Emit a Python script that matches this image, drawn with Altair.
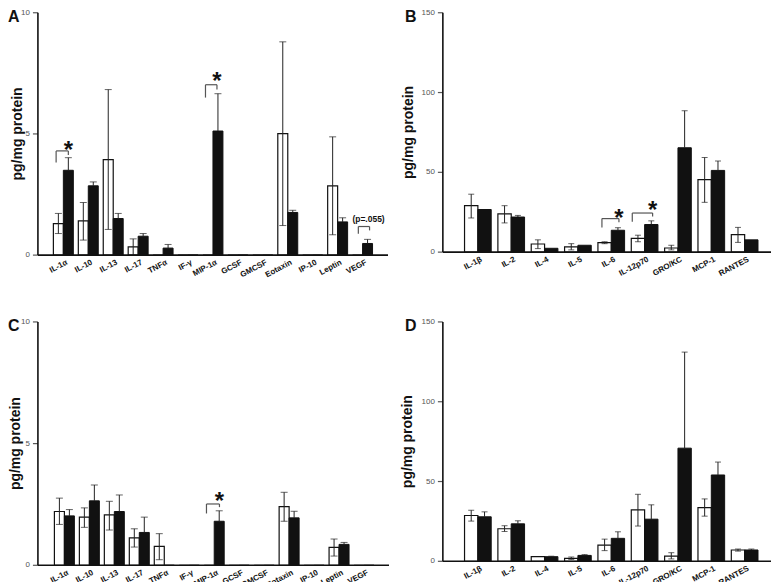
import altair as alt
import pandas as pd

FONT = "Liberation Sans"
INK = "#111111"

# ---------------- categories ----------------
cats_ac = ["IL-1α", "IL-10", "IL-13", "IL-17", "TNFα", "IF-γ", "MIP-1α",
           "GCSF", "GMCSF", "Eotaxin", "IP-10", "Leptin", "VEGF"]
cats_bd = ["IL-1β", "IL-2", "IL-4", "IL-5", "IL-6", "IL-12p70",
           "GRO/KC", "MCP-1", "RANTES"]

# ---------------- panel A ----------------
a_white    = [1.30, 1.41, 3.94, 0.34, 0, 0, 0, 0, 0, 5.01, 0, 2.86, 0]
a_white_lo = [0.89, 0.62, 1.06, 0.00, 0, 0, 0, 0, 0, 1.22, 0, 0.84, 0]
a_white_hi = [1.72, 2.17, 6.83, 0.67, 0, 0, 0, 0, 0, 8.80, 0, 4.88, 0]
a_black    = [3.50, 2.86, 1.51, 0.78, 0.29, 0, 5.12, 0, 0, 1.76, 0, 1.37, 0.48]
a_black_hi = [4.02, 3.02, 1.72, 0.89, 0.44, 0, 6.66, 0, 0, 1.85, 0, 1.54, 0.65]
# (category, left offset, right offset, top, left foot, right foot)
a_brackets = [(0, -0.29, 0.2, 4.30, 3.82, 4.13),
              (6, -0.30, 0.16, 7.03, 6.50, 6.83),
              (12, -0.17, 0.28, 1.18, 0.88, 1.02)]
a_stars = [(0, 0.2, 4.6), (6, 0.16, 7.45)]
a_notes = [(12, 0.24, 1.48, "(p=.055)")]
a_ticks = [0, 5, 10]

# ---------------- panel B ----------------
b_white    = [29.1, 24.0, 5.1, 3.3, 5.9, 8.6, 2.6, 45.4, 11.0]
b_white_lo = [21.4, 18.3, 2.2, 1.4, 5.3, 6.5, 1.4, 31.2, 6.1]
b_white_hi = [36.3, 29.1, 7.7, 5.3, 6.5, 10.6, 4.3, 59.3, 15.5]
b_black    = [26.7, 22.0, 2.4, 4.3, 13.7, 17.3, 65.4, 51.2, 7.7]
b_black_hi = [26.7, 23.0, 2.4, 4.3, 15.3, 19.6, 88.6, 57.1, 7.7]
b_brackets = [(4, -0.28, 0.23, 21.0, 15.5, 18.7),
              (5, -0.37, 0.24, 24.5, 19.0, 22.4)]
b_stars = [(4, 0.23, 25.3), (5, 0.24, 30.2)]
b_notes = []
b_ticks = [0, 50, 100, 150]

# ---------------- panel C ----------------
c_white    = [2.21, 1.98, 2.07, 1.13, 0.78, 0, 0, 0, 0, 2.41, 0, 0.74, 0]
c_white_lo = [1.68, 1.56, 1.45, 0.75, 0.23, 0, 0, 0, 0, 1.81, 0, 0.38, 0]
c_white_hi = [2.76, 2.36, 2.63, 1.50, 1.30, 0, 0, 0, 0, 3.00, 0, 1.08, 0]
c_black    = [2.03, 2.65, 2.21, 1.35, 0, 0, 1.81, 0, 0, 1.95, 0, 0.86, 0]
c_black_hi = [2.29, 3.30, 2.89, 1.98, 0, 0, 2.24, 0, 0, 2.22, 0, 0.94, 0]
c_brackets = [(6, -0.31, 0.21, 2.52, 2.13, 2.39)]
c_stars = [(6, 0.21, 2.88)]
c_notes = []
c_ticks = [0, 5, 10]

# ---------------- panel D ----------------
d_white    = [28.7, 20.4, 2.9, 1.9, 10.2, 32.2, 3.3, 33.7, 7.1]
d_white_lo = [25.2, 18.7, 2.9, 1.2, 6.7, 22.1, 1.5, 28.3, 6.4]
d_white_hi = [32.0, 22.3, 2.9, 2.7, 13.9, 42.0, 5.4, 39.1, 7.7]
d_black    = [27.9, 23.5, 2.9, 3.7, 14.4, 26.4, 70.9, 54.1, 7.1]
d_black_hi = [31.0, 25.4, 3.2, 4.2, 18.5, 35.4, 131.1, 62.2, 7.7]
d_brackets = []
d_stars = []
d_notes = []
d_ticks = [0, 50, 100, 150]

BAR_W = 0.4
Y_TITLE = "pg/mg protein"


def panel(letter, letter_x, cats, white, wlo, whi, black, bhi, ticks,
          width, height, xdom, title_x, cap, brackets, stars, notes):
    n = len(cats)
    idx = list(range(n))
    ymax = ticks[-1]
    xscale = alt.Scale(domain=xdom, nice=False, zero=False)
    yscale = alt.Scale(domain=[0, ymax], nice=False, zero=True)

    def X(field):
        return alt.X(field, scale=xscale, axis=None)

    def Y(field):
        return alt.Y(field, scale=yscale, axis=None)

    white_df = pd.DataFrame({"x0": [i - BAR_W for i in idx], "x1": idx, "v": white})
    black_df = pd.DataFrame({"x0": idx, "x1": [i + BAR_W for i in idx], "v": black})

    layers = []
    layers.append(alt.Chart(white_df).mark_bar(fill="white", stroke=INK, strokeWidth=1.2).encode(
        x=X("x0:Q"), x2="x1:Q", y=Y("v:Q"), y2=alt.datum(0)))
    layers.append(alt.Chart(black_df).mark_bar(fill=INK, stroke=INK, strokeWidth=1).encode(
        x=X("x0:Q"), x2="x1:Q", y=Y("v:Q"), y2=alt.datum(0)))

    # error bars
    err = []
    caps = []
    for i in idx:
        if whi[i] > white[i]:
            err.append({"x": i - BAR_W / 2, "lo": wlo[i], "hi": whi[i]})
            caps.append({"x": i - BAR_W / 2, "y": whi[i]})
            caps.append({"x": i - BAR_W / 2, "y": wlo[i]})
        if bhi[i] > black[i]:
            err.append({"x": i + BAR_W / 2, "lo": black[i], "hi": bhi[i]})
            caps.append({"x": i + BAR_W / 2, "y": bhi[i]})
    layers.append(alt.Chart(pd.DataFrame(err)).mark_rule(color="#222", strokeWidth=1).encode(
        x=X("x:Q"), y=Y("lo:Q"), y2="hi:Q"))
    layers.append(alt.Chart(pd.DataFrame(caps)).mark_tick(color="#222", orient="horizontal",
                                                          size=cap, thickness=1).encode(
        x=X("x:Q"), y=Y("y:Q")))

    # ---- axes, drawn through the same scales ----
    layers.append(alt.Chart(pd.DataFrame({"x": [xdom[0]], "x2": [xdom[1]], "y": [0]})).mark_rule(
        color=INK, strokeWidth=1.6).encode(x=X("x:Q"), x2="x2:Q", y=Y("y:Q")))
    layers.append(alt.Chart(pd.DataFrame({"x": [xdom[0]], "y": [0], "y2": [ymax]})).mark_rule(
        color=INK, strokeWidth=1.6).encode(x=X("x:Q"), y=Y("y:Q"), y2="y2:Q"))
    tick_df = pd.DataFrame({"x": [xdom[0]] * len(ticks), "y": ticks, "t": [str(t) for t in ticks]})
    layers.append(alt.Chart(tick_df).mark_tick(color=INK, orient="horizontal", size=5,
                                               thickness=1.2, xOffset=-2.5).encode(
        x=X("x:Q"), y=Y("y:Q")))
    layers.append(alt.Chart(tick_df).mark_text(align="right", baseline="middle", dx=-8,
                                               font=FONT, fontSize=8, color="#555").encode(
        x=X("x:Q"), y=Y("y:Q"), text="t:N"))
    # category labels
    lab_df = pd.DataFrame({"x": idx, "y": [0] * n, "t": cats})
    layers.append(alt.Chart(lab_df).mark_text(align="right", baseline="top", dy=4,
                                              font=FONT, fontSize=8, fontWeight="bold",
                                              color="#111").encode(
        x=X("x:Q"), y=Y("y:Q"), text="t:N", angle=alt.value(332)))
    # y title
    layers.append(alt.Chart(pd.DataFrame({"t": [Y_TITLE]})).mark_text(
        angle=270, align="center", baseline="bottom", font=FONT, fontSize=14,
        fontWeight="bold", color=INK).encode(
        text="t:N", x=alt.value(title_x), y=alt.value(height / 2)))

    # ---- annotations ----
    if brackets:
        seg = []
        for (c, l, r, top, lf, rf) in brackets:
            seg.append({"x": c + l, "x2": c + r, "y": top, "y2": top})
            seg.append({"x": c + l, "x2": c + l, "y": lf, "y2": top})
            seg.append({"x": c + r, "x2": c + r, "y": rf, "y2": top})
        layers.append(alt.Chart(pd.DataFrame(seg)).mark_rule(color="#555", strokeWidth=1.2).encode(
            x=X("x:Q"), x2="x2:Q", y=Y("y:Q"), y2="y2:Q"))
    if stars:
        sdf = pd.DataFrame([{"x": c + o, "y": y} for (c, o, y) in stars])
        layers.append(alt.Chart(sdf).mark_text(text="*", font=FONT, fontSize=24, fontWeight="bold",
                                               baseline="alphabetic", dy=14, color=INK).encode(
            x=X("x:Q"), y=Y("y:Q")))
    if notes:
        ndf = pd.DataFrame([{"x": c + o, "y": y, "t": t} for (c, o, y, t) in notes])
        layers.append(alt.Chart(ndf).mark_text(font=FONT, fontSize=8.5, fontWeight="bold",
                                               baseline="middle", color=INK).encode(
            x=X("x:Q"), y=Y("y:Q"), text="t:N"))

    layers.append(alt.Chart(pd.DataFrame({"t": [letter]})).mark_text(
        align="left", baseline="alphabetic", font=FONT, fontSize=16, fontWeight="bold",
        color=INK).encode(text="t:N", x=alt.value(letter_x), y=alt.value(9)))

    return alt.layer(*layers).properties(width=width, height=height)


A = panel("A", -30, cats_ac, a_white, a_white_lo, a_white_hi, a_black, a_black_hi, a_ticks,
          351, 243, [-1.02, 13.02], -13, 7, a_brackets, a_stars, a_notes)
B = panel("B", -38, cats_bd, b_white, b_white_lo, b_white_hi, b_black, b_black_hi, b_ticks,
          329, 240, [-1.05, 8.79], -27, 6, b_brackets, b_stars, b_notes)
C = panel("C", -30, cats_ac, c_white, c_white_lo, c_white_hi, c_black, c_black_hi, c_ticks,
          352, 244, [-1.06, 13.0], -15, 7, c_brackets, c_stars, c_notes)
D = panel("D", -38, cats_bd, d_white, d_white_lo, d_white_hi, d_black, d_black_hi, d_ticks,
          329, 240, [-1.05, 8.79], -28, 6, d_brackets, d_stars, d_notes)

chart = alt.concat(A, B, C, D, columns=2,
                   spacing={"row": 38, "column": 11}).properties(
    padding=0
).configure_view(stroke=None)

chart.save("out.html", embed_options={"renderer": "svg", "actions": False})
